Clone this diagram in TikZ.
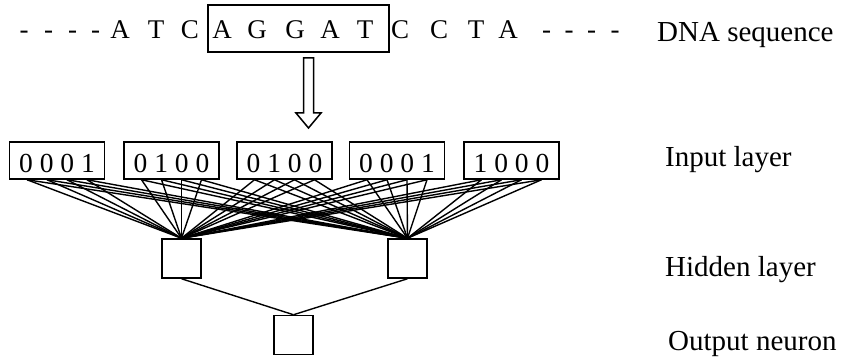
\documentclass[tikz,border=0pt]{standalone}
\usepackage{fontspec}
\setmainfont{Liberation Serif}
\usetikzlibrary{calc}
\begin{document}
\begin{tikzpicture}[x=1pt,y=-1pt,
  seqletter/.style={anchor=base, inner sep=0pt, font=\fontsize{27}{31}\selectfont},
  bitbox/.style={draw, line width=1.5pt, minimum width=95pt, minimum height=37pt,
    inner sep=0pt, text height=24pt, text depth=0pt, font=\fontsize{27.5}{31}\selectfont},
  neuron/.style={draw, line width=1.5pt, minimum width=39pt, minimum height=39pt, inner sep=0pt},
  layerlabel/.style={anchor=base west, inner sep=0pt, font=\fontsize{29}{34}\selectfont},
  wire/.style={line width=1.4pt}]
\useasboundingbox (0,0) rectangle (846,363);

% DNA sequence with the reading window
\foreach \ch/\x [count=\i] in {A/120,T/156,C/190,A/222,G/257,G/295,A/330,T/365,C/400,C/439,T/476,A/508}
  \node[seqletter] (s\i) at (\x,38.5) {\ch};
\foreach \x [count=\i] in {24,48.5,72.5,95.5,546.5,569,591.5,615}
  \node[seqletter] (d\i) at (\x,38.5) {-};
\node[draw, line width=1.5pt, minimum width=181pt, minimum height=47pt, inner sep=0pt] (win) at (298.5,28.5) {};

% hollow arrow down to the input layer
\coordinate (atop) at (308.5,58);
\draw[line width=1.5pt, line join=miter] (atop) ++(-5,0) -- ++(0,55) -- ++(-7.5,0)
  -- ++(12.5,15) -- ++(12.5,-15) -- ++(-7.5,0) -- ++(0,-55) -- cycle;

% one-hot encoded input layer
\foreach \bits/\x [count=\i] in {0 0 0 1/57, 0 1 0 0/171.5, 0 1 0 0/284.5, 0 0 0 1/397, 1 0 0 0/511.5}
  \node[bitbox] (in\i) at (\x,160.5) {\bits};

% hidden and output neurons
\node[neuron] (h1) at (181.5,258.5) {};
\node[neuron] (h2) at (407.5,258.5) {};
\node[neuron] (out) at (293.5,335) {};

% every input bit feeds both hidden neurons
\foreach \i in {1,...,5}{
  \foreach \o [count=\j] in {-30,-10,10,30}{
    \coordinate (p\i-\j) at ($(in\i.south)+(\o,0)$);
    \draw[wire] (p\i-\j) -- (h1.north);
    \draw[wire] (p\i-\j) -- (h2.north);
  }
}
\draw[wire] (h1.south) -- (out.north);
\draw[wire] (h2.south) -- (out.north);

% layer captions
\node[layerlabel] (lseq) at (657,42) {DNA sequence};
\node[layerlabel] (lin) at (665,167) {Input layer};
\node[layerlabel] (lhid) at (665,277) {Hidden layer};
\node[layerlabel] (lout) at (668,350) {Output neuron};
\end{tikzpicture}
\end{document}
